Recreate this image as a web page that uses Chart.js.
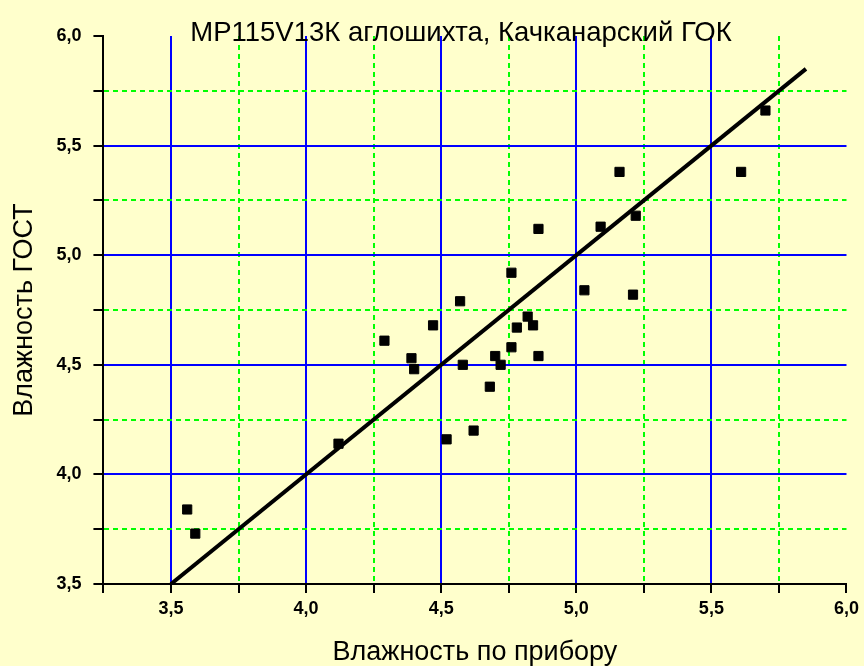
<!DOCTYPE html>
<html lang="ru">
<head>
    <meta charset="UTF-8">
    <title>Влажность ГОСТ / по прибору</title>
    <style>
        body {
            margin: 0;
            padding: 0;
            background-color: #ffffcc;
        }
        .chart-container {
            position: relative;
            width: 864px;
            height: 666px;
        }
    </style>
</head>
<body>
    <div class="chart-container">
        <canvas id="scatterChart"></canvas>
    </div>

    <script src="https://cdn.jsdelivr.net/npm/chart.js"></script>
    <script>
        // измерения: влажность по прибору (x) и по ГОСТ (y)
        const xValues = [3.56, 3.59, 4.12, 4.29, 4.39, 4.40, 4.47, 4.57, 4.58, 4.52,
                         4.62, 4.68, 4.70, 4.72, 4.76, 4.76, 4.78, 4.82, 4.84, 4.86,
                         4.86, 5.16, 5.09, 5.22, 5.03, 5.21, 5.61, 5.70];
        const yValues = [3.84, 3.73, 4.14, 4.61, 4.53, 4.48, 4.68, 4.79, 4.50, 4.16,
                         4.20, 4.40, 4.54, 4.50, 4.58, 4.92, 4.67, 4.72, 4.68, 4.54,
                         5.12, 5.38, 5.13, 5.18, 4.84, 4.82, 5.38, 5.66];

        // линия y = x
        const lineX = [3.5, 5.85];
        const lineY = [3.5, 5.85];

        // деления осей
        const xTicks = [3.25, 3.5, 3.75, 4.0, 4.25, 4.5, 4.75, 5.0, 5.25, 5.5, 5.75, 6.0];
        const yTicks = [3.5, 3.75, 4.0, 4.25, 4.5, 4.75, 5.0, 5.25, 5.5, 5.75, 6.0];

        const isMajor = v => Math.abs(v * 2 - Math.round(v * 2)) < 1e-6;

        function gridColor(max) {
            return ctx => {
                if (!ctx.tick) return 'rgba(0,0,0,0)';
                const v = ctx.tick.value;
                if (v >= max - 1e-6) return 'rgba(0,0,0,0)';
                return isMajor(v) ? '#0000ff' : '#00ff00';
            };
        }
        function gridDash(ctx) {
            if (!ctx.tick) return [];
            return isMajor(ctx.tick.value) ? [] : [5, 4];
        }
        function tickLabel(v) {
            return isMajor(v) ? v.toFixed(1).replace('.', ',') : '';
        }

        const tickFont = { family: 'Arial, "Liberation Sans"', size: 18, weight: 'bold' };
        const axisTitleFont = { family: 'Arial, "Liberation Sans"', size: 27 };
        const titleFont = { family: 'Arial, "Liberation Sans"', size: 27.5, weight: 'normal' };

        // заголовок в оригинале сдвинут левее центра области графика
        const titleShift = {
            id: 'titleShift',
            afterLayout(chart) {
                const t = chart.titleBlock;
                if (t) { t.left -= 14; t.right -= 14; }
            }
        };

        const points = xValues.map((x, i) => ({ x: x, y: yValues[i] }));
        const linePts = lineX.map((x, i) => ({ x: x, y: lineY[i] }));

        const ctx = document.getElementById('scatterChart').getContext('2d');
        const chart = new Chart(ctx, {
            type: 'scatter',
            data: {
                datasets: [{
                    label: 'Измерения',
                    data: points,
                    pointStyle: 'rect',
                    pointRadius: 6.5,
                    backgroundColor: '#000000',
                    borderColor: '#000000',
                    borderWidth: 1
                }, {
                    label: 'y = x',
                    data: linePts,
                    showLine: true,
                    pointRadius: 0,
                    borderColor: '#000000',
                    borderWidth: 4
                }]
            },
            options: {
                responsive: true,
                maintainAspectRatio: false,
                animation: false,
                layout: {
                    padding: { left: 0, right: 12, top: 0, bottom: 0 }
                },
                plugins: {
                    legend: { display: false },
                    tooltip: { enabled: false },
                    title: {
                        display: true,
                        text: 'МР115V13К аглошихта, Качканарский ГОК',
                        color: '#000000',
                        font: titleFont,
                        fullSize: false,
                        padding: { top: 17, bottom: -14 }
                    }
                },
                scales: {
                    x: {
                        type: 'linear',
                        min: 3.25,
                        max: 6.0,
                        afterBuildTicks: axis => { axis.ticks = xTicks.map(v => ({ value: v })); },
                        grid: {
                            color: gridColor(6.0),
                            lineWidth: 2,
                            tickColor: '#000000',
                            tickWidth: 2,
                            tickLength: 9
                        },
                        border: { display: true, color: '#000000', width: 2, dash: gridDash },
                        ticks: {
                            color: '#000000',
                            font: tickFont,
                            padding: 5,
                            maxRotation: 0,
                            autoSkip: false,
                            callback: tickLabel
                        },
                        title: {
                            display: true,
                            text: 'Влажность по прибору',
                            color: '#000000',
                            font: axisTitleFont,
                            padding: { top: 12, bottom: -3 }
                        }
                    },
                    y: {
                        type: 'linear',
                        min: 3.5,
                        max: 6.0,
                        afterBuildTicks: axis => { axis.ticks = yTicks.map(v => ({ value: v })); },
                        grid: {
                            color: gridColor(6.0),
                            lineWidth: 2,
                            tickColor: '#000000',
                            tickWidth: 2,
                            tickLength: 10
                        },
                        border: { display: true, color: '#000000', width: 2, dash: gridDash },
                        ticks: {
                            color: '#000000',
                            font: tickFont,
                            padding: 12,
                            autoSkip: false,
                            callback: tickLabel
                        },
                        title: {
                            display: true,
                            text: 'Влажность ГОСТ',
                            color: '#000000',
                            font: axisTitleFont,
                            padding: { top: 8, bottom: 4 }
                        }
                    }
                }
            },
            plugins: [titleShift]
        });
    </script>
</body>
</html>
